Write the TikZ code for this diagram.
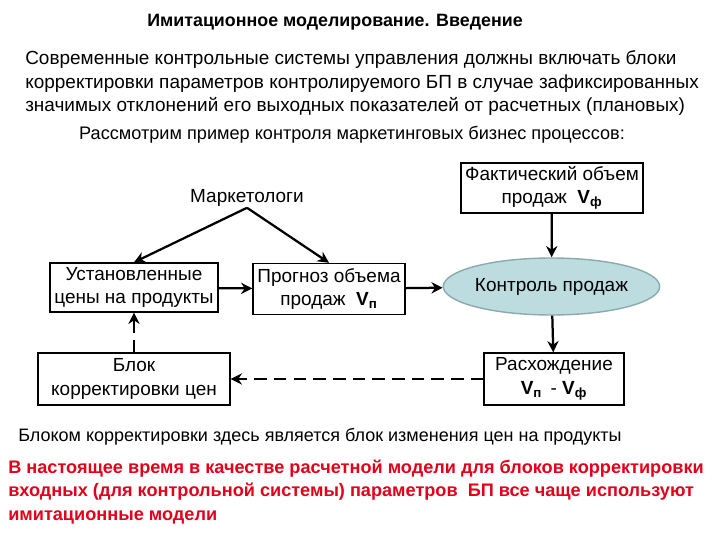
\documentclass[tikz,border=0pt]{standalone}
\usepackage{fontspec}
\setmainfont{Liberation Sans}
\usepackage{xcolor}
\usetikzlibrary{shapes.geometric,arrows.meta}
\definecolor{IMTeal}{HTML}{BCDCE0}
\definecolor{IMTealLine}{HTML}{8AAAB0}
\definecolor{IMRed}{HTML}{E3001B}

\tikzset{
  txt/.style={font=\fontsize{13.5}{16.6}\selectfont},
  blok/.style={draw,line width=1pt,align=center,inner sep=0pt,font=\fontsize{13.5}{16.8}\selectfont},
  strel/.style={line width=1.6pt,-{Stealth[length=8pt,width=8pt]}},
  pstrel/.style={strel,dash pattern=on 9pt off 5pt},
}

\begin{document}
\begin{tikzpicture}[x=1cm,y=1cm]
\path[use as bounding box] (0,0) rectangle (18,13.5);
\fill[white] (0,0) rectangle (18,13.5);
% header and intro
\node[font=\fontsize{12.7}{15}\selectfont\bfseries] (title) at (8.375,12.95) {Имитационное моделирование. Введение};
\node[txt,anchor=west,align=left,inner sep=0pt] (intro) at (0.625,11.42) {Современные контрольные системы управления должны включать блоки\\
корректировки параметров контролируемого БП в случае зафиксированных\\
значимых отклонений его выходных показателей от расчетных (плановых)};
\node[font=\fontsize{12.9}{15}\selectfont] (example) at (8.8,10.125) {Рассмотрим пример контроля маркетинговых бизнес процессов:};
% scheme
\node[txt,inner sep=1pt] (mkt) at (6.175,8.56) {Маркетологи};
\node[blok,minimum width=4.2cm,minimum height=1.225cm] (ceny) at (3.35,6.3125) {Установленные\\ цены на продукты};
\node[blok,minimum width=3.8cm,minimum height=1.275cm] (prognoz) at (8.225,6.275) {Прогноз объема\\ продаж \ \textbf{V\textsubscript{п}}};
\node[blok,minimum width=4.55cm,minimum height=1.25cm] (fakt) at (13.8,8.8) {Фактический объем\\ продаж \ \textbf{V\textsubscript{ф}}};
\node[txt,ellipse,draw=IMTealLine,fill=IMTeal,line width=1pt,minimum width=4.775cm,minimum height=1.425cm,inner sep=0pt] (kontrol) at (13.7875,6.3375) {Контроль продаж};
\node[blok,minimum width=3.5cm,minimum height=1.3cm] (rash) at (13.85,4.025) {Расхождение\\ \textbf{V\textsubscript{п}} \,- \textbf{V\textsubscript{ф}}};
\node[blok,minimum width=4.8cm,minimum height=1.3cm] (korr) at (3.35,4.025) {Блок\\ корректировки цен};
\draw[strel] (mkt.south) -- (ceny.north);
\draw[strel] (mkt.south) -- (prognoz.north);
\draw[strel] (ceny) -- (prognoz);
\draw[strel] (prognoz) -- (kontrol);
\draw[strel] (fakt) -- (kontrol);
\draw[strel] (kontrol) -- (rash);
\draw[pstrel] (rash) -- (korr);
\draw[pstrel] (korr) -- (ceny);
% conclusion
\node[font=\fontsize{12.8}{15}\selectfont,anchor=west,inner sep=0pt] (vyvod) at (0.45,2.575) {Блоком корректировки здесь является блок изменения цен на продукты};
\node[anchor=west,align=left,inner sep=0pt,text=IMRed,font=\fontsize{12.9}{16.6}\selectfont\bfseries] (itog) at (0.2,1.2) {В настоящее время в качестве расчетной модели для блоков корректировки\\
входных (для контрольной системы) параметров \ БП все чаще используют\\
имитационные модели};
\end{tikzpicture}
\end{document}
